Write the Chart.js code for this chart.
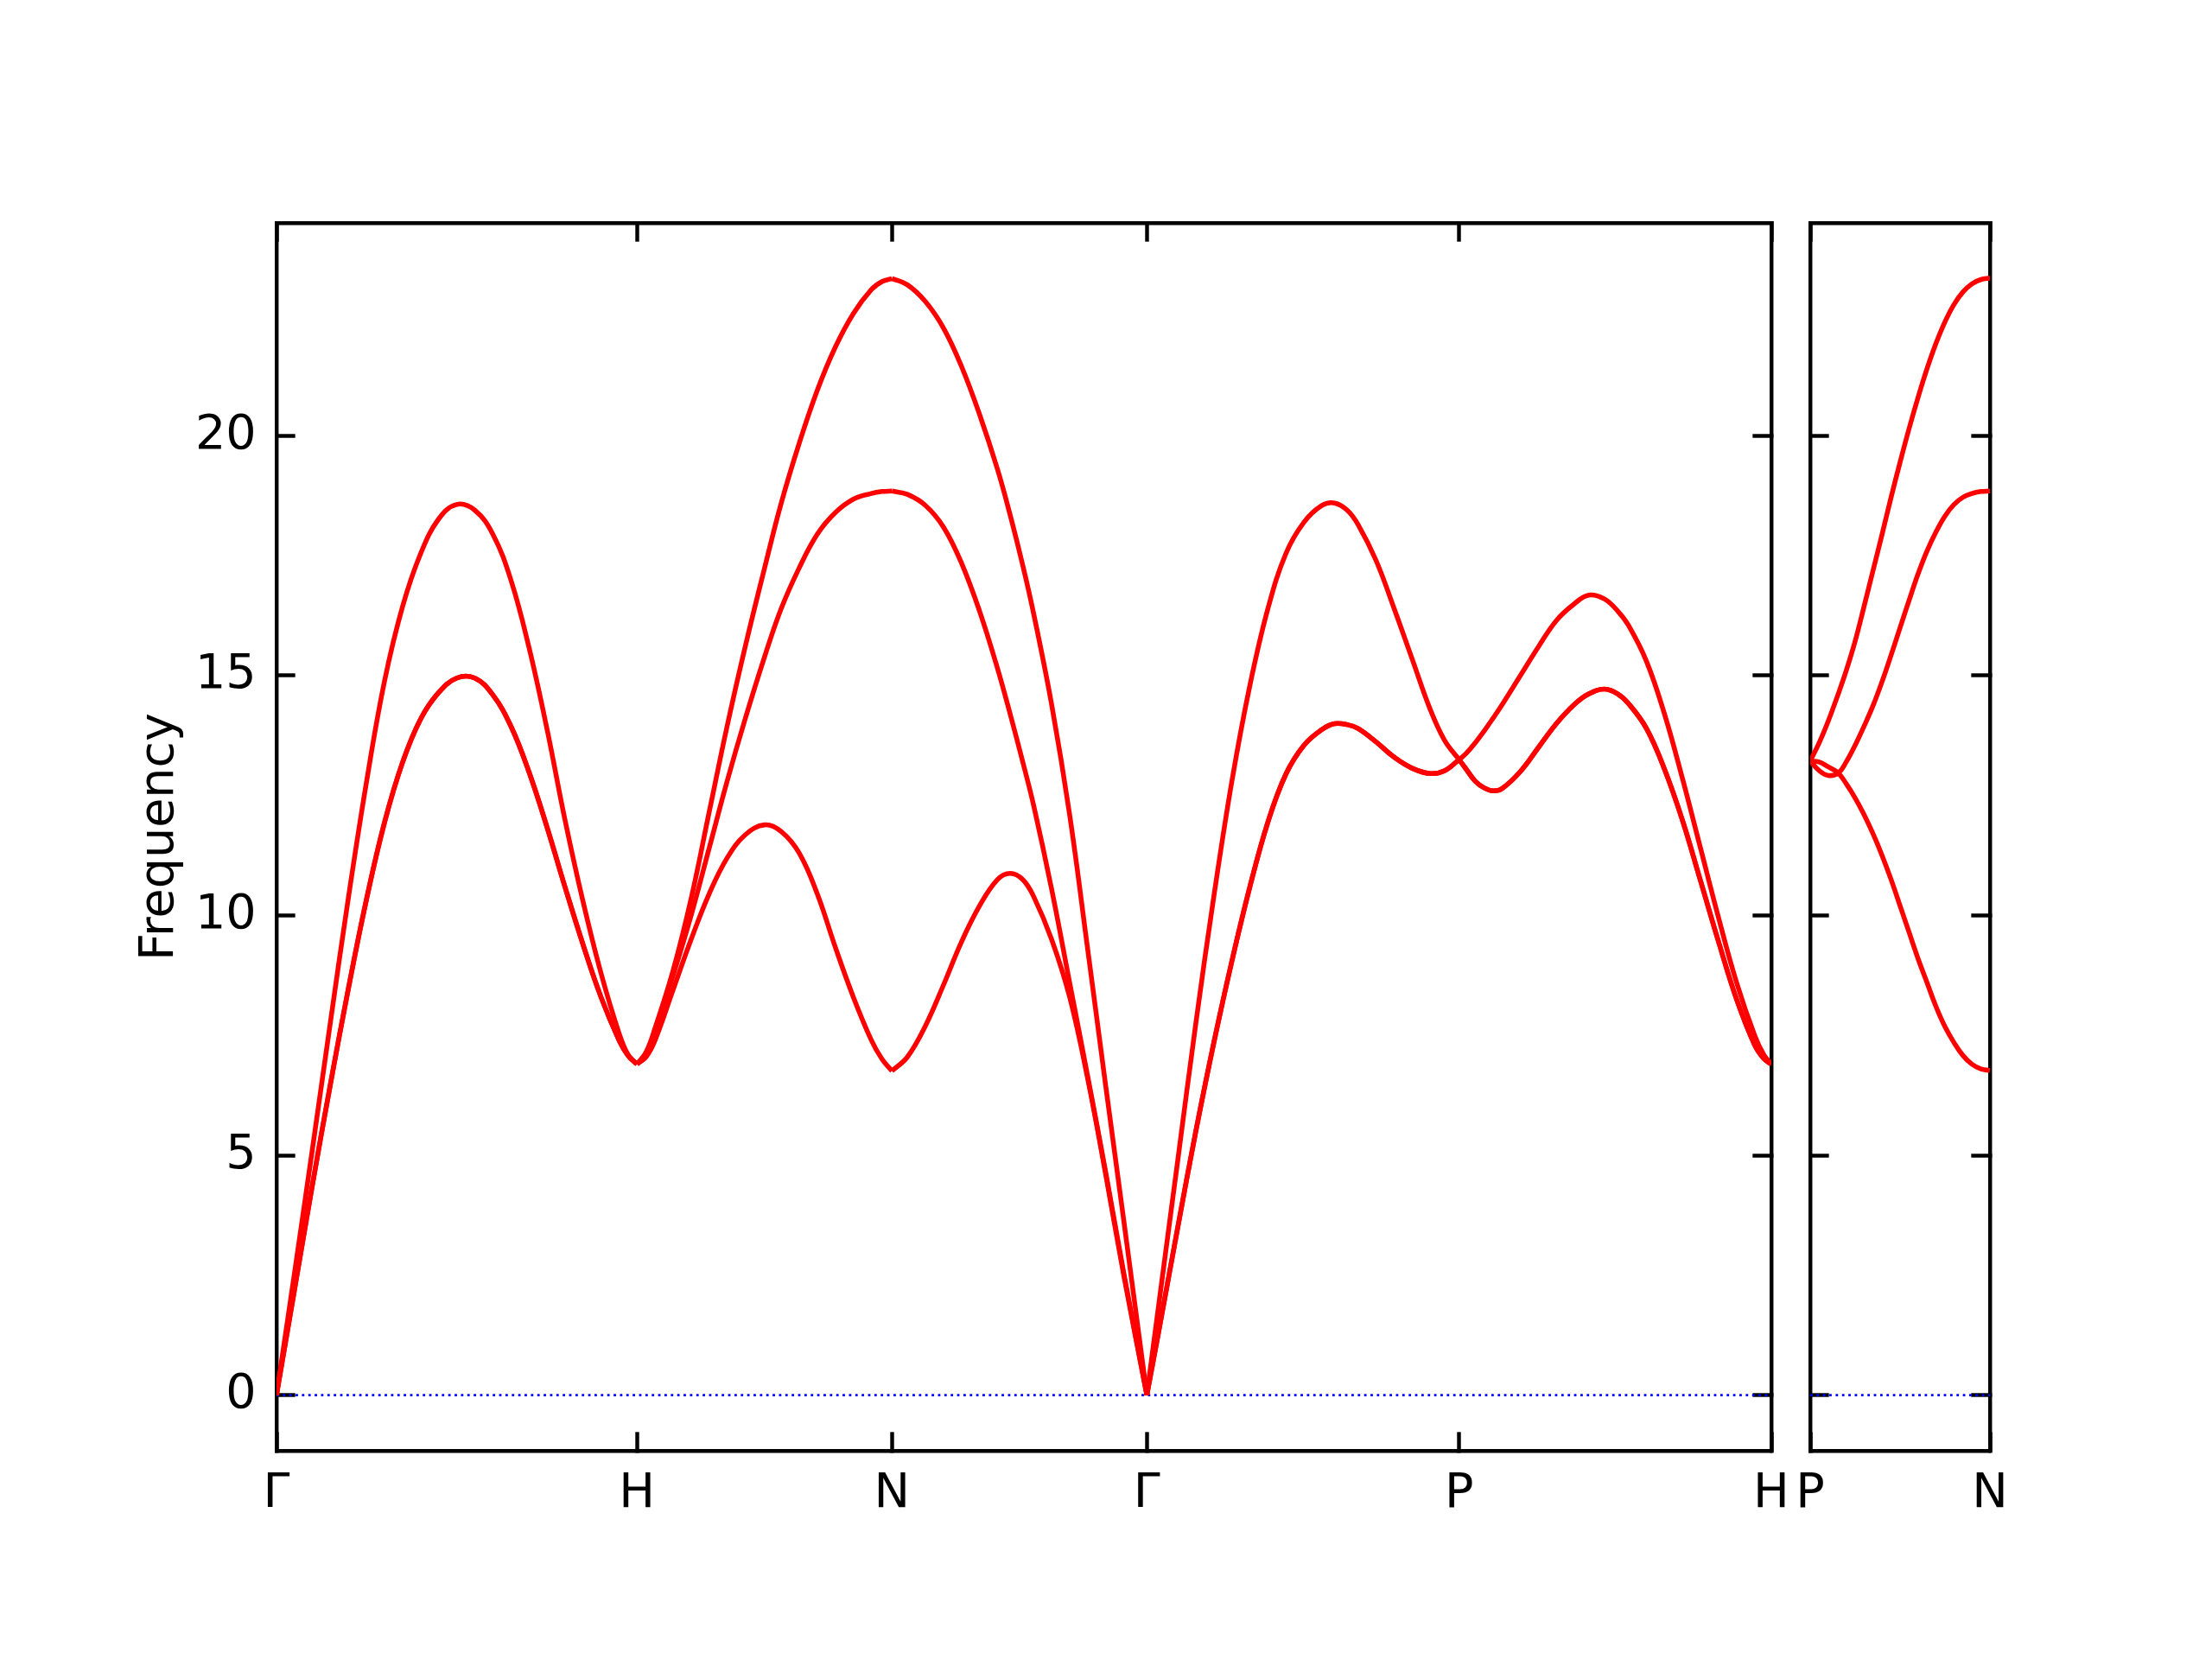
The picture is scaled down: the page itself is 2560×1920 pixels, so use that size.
<!DOCTYPE html>
<html>
<head>
<meta charset="utf-8">
<script src="https://cdn.jsdelivr.net/npm/chart.js@4.4.0/dist/chart.umd.min.js"></script>
<style>
  html, body { margin: 0; padding: 0; background: #fff; }
  body { width: 2560px; height: 1920px; position: relative; overflow: hidden; }
  canvas { position: absolute; top: 0; }
  #main { left: 0; width: 2130px; height: 1920px; }
  #side { left: 2015px; width: 368px; height: 1920px; }
</style>
</head>
<body>
<canvas id="main" width="2130" height="1920"></canvas>
<canvas id="side" width="368" height="1920"></canvas>
<script>
// high symmetry points along the path (bcc)
var kTicks = [0, 1, 1.7071, 2.4142, 3.2802, 4.1463];
var kLabels = ['Γ', 'H', 'N', 'Γ', 'P', 'H'];
var kTicksSide = [0, 0.5];
var kLabelsSide = ['P', 'N'];
var yTicks = [0, 5, 10, 15, 20];
var yMin = -1.16, yMax = 24.44;

// Γ - H
var kGH = [0, 0.05, 0.1, 0.15, 0.2, 0.25, 0.3, 0.35, 0.4, 0.45, 0.5, 0.55, 0.6, 0.65, 0.7, 0.75, 0.8, 0.85, 0.9, 0.95, 0.975, 1.0];
var ghUpper = [0, 2.55, 5.15, 7.8, 10.4, 12.8, 14.9, 16.45, 17.55, 18.27, 18.57, 18.45, 17.95, 17.0, 15.6, 13.9, 12.0, 10.3, 8.8, 7.55, 7.1, 6.9];
var ghLower = [0, 2.2, 4.4, 6.5, 8.5, 10.35, 11.95, 13.2, 14.1, 14.65, 14.95, 14.95, 14.6, 13.95, 13.0, 11.85, 10.6, 9.4, 8.3, 7.4, 7.08, 6.9];

// H - N
var kHN = [1.0, 1.025, 1.05, 1.1, 1.15, 1.2, 1.25, 1.3, 1.354, 1.4, 1.45, 1.5, 1.55, 1.6, 1.65, 1.68, 1.7071];
var hn3 = [6.9, 7.15, 7.65, 8.85, 10.35, 12.15, 13.95, 15.6, 17.25, 18.6, 19.85, 20.95, 21.85, 22.55, 23.05, 23.22, 23.28];
var hn2 = [6.9, 7.12, 7.6, 8.75, 10.0, 11.4, 12.8, 14.1, 15.4, 16.4, 17.25, 17.95, 18.4, 18.68, 18.8, 18.84, 18.85];
var hn1 = [6.9, 7.05, 7.4, 8.45, 9.5, 10.45, 11.2, 11.68, 11.89, 11.75, 11.3, 10.45, 9.34, 8.3, 7.4, 7.0, 6.76];

// N - Γ
var kNG = [1.7071, 1.75, 1.8, 1.85, 1.9, 1.95, 2.0, 2.035, 2.07, 2.1, 2.15, 2.2, 2.25, 2.3, 2.35, 2.4142];
var ng3 = [23.28, 23.15, 22.8, 22.25, 21.45, 20.45, 19.3, 18.35, 17.3, 16.3, 14.4, 12.1, 9.3, 6.45, 3.65, 0];
var ng2 = [18.85, 18.78, 18.55, 18.1, 17.35, 16.35, 15.15, 14.2, 13.2, 12.3, 10.55, 8.6, 6.65, 4.65, 2.55, 0];
var ng1 = [6.76, 7.05, 7.7, 8.55, 9.45, 10.2, 10.75, 10.88, 10.75, 10.4, 9.5, 8.3, 6.6, 4.6, 2.5, 0];

// Γ - P
var kGP = [2.4142, 2.45, 2.5, 2.55, 2.6, 2.65, 2.7, 2.75, 2.8, 2.85, 2.9, 2.935, 2.97, 3.0, 3.05, 3.1, 3.15, 3.2, 3.24, 3.2802];
var gpUpper = [0, 2.05, 4.9, 7.75, 10.4, 12.8, 14.8, 16.4, 17.55, 18.2, 18.55, 18.6, 18.45, 18.15, 17.4, 16.4, 15.35, 14.3, 13.65, 13.25];
var gpLower = [0, 1.45, 3.5, 5.5, 7.35, 9.05, 10.6, 11.95, 12.95, 13.55, 13.88, 14.0, 13.98, 13.9, 13.62, 13.3, 13.07, 12.96, 13.02, 13.25];

// P - H
var kPH = [3.2802, 3.3, 3.325, 3.35, 3.375, 3.4, 3.45, 3.5, 3.55, 3.6, 3.64, 3.683, 3.72, 3.75, 3.8, 3.85, 3.9, 3.95, 4.0, 4.05, 4.1, 4.125, 4.1463];
var phUpper = [13.25, 13.38, 13.6, 13.85, 14.12, 14.4, 15.0, 15.6, 16.15, 16.5, 16.68, 16.6, 16.35, 16.05, 15.3, 14.2, 12.85, 11.4, 9.95, 8.6, 7.5, 7.1, 6.9];
var phLower = [13.25, 13.05, 12.8, 12.66, 12.6, 12.65, 13.0, 13.5, 14.0, 14.4, 14.62, 14.72, 14.62, 14.42, 13.9, 13.05, 11.98, 10.72, 9.45, 8.25, 7.3, 7.02, 6.9];

// P - N (second panel)
var kPN = [0, 0.025, 0.05, 0.078, 0.1, 0.125, 0.15, 0.175, 0.2, 0.225, 0.25, 0.275, 0.3, 0.325, 0.35, 0.375, 0.4, 0.425, 0.45, 0.475, 0.5];
var pn3 = [13.22, 13.6, 14.05, 14.62, 15.1, 15.72, 16.45, 17.2, 17.95, 18.72, 19.45, 20.15, 20.8, 21.4, 21.93, 22.38, 22.74, 23.0, 23.17, 23.26, 23.29];
var pn2 = [13.22, 13.02, 12.92, 12.97, 13.2, 13.55, 13.95, 14.38, 14.88, 15.43, 16.0, 16.57, 17.12, 17.6, 18.0, 18.33, 18.57, 18.72, 18.8, 18.84, 18.85];
var pn1 = [13.22, 13.2, 13.1, 12.97, 12.75, 12.45, 12.1, 11.7, 11.25, 10.75, 10.2, 9.65, 9.1, 8.6, 8.1, 7.68, 7.35, 7.08, 6.9, 6.8, 6.77];

var PT = 400 / 72;   // one point at 400 dpi
var FONT = { family: "'DejaVu Sans', sans-serif", size: 10 * PT };
var TICK_LEN = -3.9 * PT;  // negative -> ticks point inward

function band(xs, ys) {
  return {
    data: xs.map(function(x, i) { return { x: x, y: ys[i] }; }),
    borderColor: '#ff0000',
    borderWidth: 1 * PT,
    pointRadius: 0,
    fill: false,
    tension: 0.4,
    borderJoinStyle: 'round'
  };
}

function zeroLine(ks) {
  return {
    data: [{ x: ks[0], y: 0 }, { x: ks[ks.length - 1], y: 0 }],
    borderColor: '#0000ff',
    borderWidth: 0.5 * PT,
    borderDash: [0.5 * PT, 0.825 * PT],
    pointRadius: 0,
    fill: false
  };
}

function grid() {
  return { drawOnChartArea: false, drawTicks: true, tickLength: TICK_LEN, tickWidth: 0.8 * PT, tickColor: '#000' };
}
function border() {
  return { display: true, color: '#000', width: 0.8 * PT };
}

function makeScales(ks, labels, leftWidth, showY) {
  var setX = function(s) { s.ticks = ks.map(function(v) { return { value: v }; }); };
  var setY = function(s) { s.ticks = yTicks.map(function(v) { return { value: v }; }); };
  return {
    x: {
      type: 'linear', position: 'bottom', min: ks[0], max: ks[ks.length - 1],
      afterBuildTicks: setX,
      afterFit: function(s) { s.height = 241; },
      grid: grid(), border: border(),
      ticks: { color: '#000', font: FONT, padding: 39, autoSkip: false, maxRotation: 0,
               callback: function(v, i) { return labels[i]; } }
    },
    x2: {
      type: 'linear', position: 'top', min: ks[0], max: ks[ks.length - 1],
      afterBuildTicks: setX,
      afterFit: function(s) { s.height = 0; },
      grid: grid(), border: border(),
      ticks: { display: false }
    },
    y: {
      type: 'linear', position: 'left', min: yMin, max: yMax,
      afterBuildTicks: setY,
      afterFit: function(s) { s.width = leftWidth; },
      grid: grid(), border: border(),
      ticks: { display: showY, color: '#000', font: FONT, padding: 45 },
      title: { display: showY, text: 'Frequency', color: '#000', font: FONT, padding: { top: 152, bottom: 0 } }
    },
    y2: {
      type: 'linear', position: 'right', min: yMin, max: yMax,
      afterBuildTicks: setY,
      afterFit: function(s) { s.width = 0; },
      grid: grid(), border: border(),
      ticks: { display: false }
    }
  };
}

function baseOptions(scales, padRight) {
  return {
    responsive: false,
    animation: false,
    events: [],
    devicePixelRatio: 1,
    layout: { autoPadding: false, padding: { left: 0, right: padRight, top: 258, bottom: 0 } },
    plugins: { legend: { display: false }, tooltip: { enabled: false } },
    scales: scales
  };
}

// main panel: plot area 320..2050 px
new Chart(document.getElementById('main').getContext('2d'), {
  type: 'line',
  data: {
    datasets: [
      band(kGH, ghLower), band(kGH, ghLower), band(kGH, ghUpper),
      band(kHN, hn1), band(kHN, hn2), band(kHN, hn3),
      band(kNG, ng1), band(kNG, ng2), band(kNG, ng3),
      band(kGP, gpLower), band(kGP, gpLower), band(kGP, gpUpper),
      band(kPH, phLower), band(kPH, phLower), band(kPH, phUpper),
      zeroLine(kTicks)
    ]
  },
  options: baseOptions(makeScales(kTicks, kLabels, 320, true), 80)
});

// side panel: plot area 2095..2303 px
new Chart(document.getElementById('side').getContext('2d'), {
  type: 'line',
  data: {
    datasets: [
      band(kPN, pn1), band(kPN, pn2), band(kPN, pn3),
      zeroLine(kTicksSide)
    ]
  },
  options: baseOptions(makeScales(kTicksSide, kLabelsSide, 80, false), 80)
});
</script>
</body>
</html>
